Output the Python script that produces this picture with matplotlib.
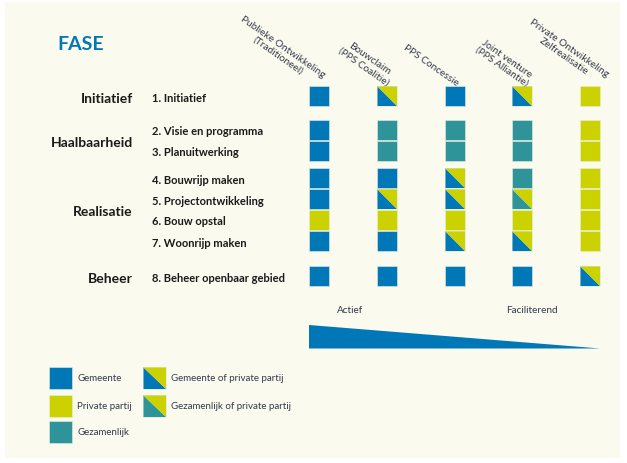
import matplotlib
matplotlib.use("Agg")
import matplotlib.pyplot as plt
from matplotlib.patches import Rectangle, Polygon

# ---------------- data ----------------
columns = ["Publieke Ontwikkeling\n(Traditioneel)", "Bouwclaim\n(PPS Coalitie)", "PPS Concessie",
           "Joint venture\n(PPS Alliantie)", "Private Ontwikkeling\nZelfrealisatie"]
phases = ["Initiatief", "Haalbaarheid", "Realisatie", "Beheer"]
phase_rows = [[0], [1, 2], [3, 4, 5, 6], [7]]
activities = ["1. Initiatief", "2. Visie en programma", "3. Planuitwerking", "4. Bouwrijp maken",
              "5. Projectontwikkeling", "6. Bouw opstal", "7. Woonrijp maken", "8. Beheer openbaar gebied"]
# G = Gemeente, P = Private partij, Z = Gezamenlijk, GP = Gemeente of private partij, ZP = Gezamenlijk of private partij
matrix = [
    ["G", "GP", "G", "GP", "P"],
    ["G", "Z", "Z", "Z", "P"],
    ["G", "Z", "Z", "Z", "P"],
    ["G", "G", "GP", "Z", "P"],
    ["G", "GP", "GP", "ZP", "P"],
    ["P", "P", "P", "P", "P"],
    ["G", "G", "GP", "GP", "P"],
    ["G", "G", "G", "G", "GP"],
]
legend_codes = ["G", "P", "Z", "GP", "ZP"]
legend_labels = ["Gemeente", "Private partij", "Gezamenlijk", "Gemeente of private partij",
                 "Gezamenlijk of private partij"]
scale_labels = ["Actief", "Faciliterend"]
title = "FASE"

# ---------------- style / layout ----------------
BLUE = "#0077B6"
YELLOW = "#CCD200"
TEAL = "#2E9499"
BG = "#FAFAEE"
TXT = "#1a1a1a"
TXT2 = "#333a4a"
colors = {"G": BLUE, "P": YELLOW, "Z": TEAL}

FONT = "Lato"
col_x0, col_dx = 319, 67.8
row_y = [97, 130.5, 151.5, 179, 200, 220.5, 242, 277]
sq = 20

fig = plt.figure(figsize=(6.27, 4.64), dpi=100)
ax = fig.add_axes([0, 0, 1, 1])
ax.set_xlim(0, 627)
ax.set_ylim(464, 0)
ax.axis("off")
fig.patch.set_facecolor("white")
ax.add_patch(Rectangle((5, 3), 615, 456, facecolor=BG, edgecolor="none", zorder=0))


def draw_cell(ax, cx, cy, code, w, h):
    x0, y0, x1, y1 = cx - w / 2, cy - h / 2, cx + w / 2, cy + h / 2
    if len(code) == 1:
        ax.add_patch(Rectangle((x0, y0), w, h, facecolor=colors[code], edgecolor="#e8efe0",
                               linewidth=0.4, zorder=2))
    else:
        ax.add_patch(Polygon([(x0, y0), (x0, y1), (x1, y1)], closed=True,
                             facecolor=colors[code[0]], edgecolor="none", zorder=2))
        ax.add_patch(Polygon([(x0, y0), (x1, y0), (x1, y1)], closed=True,
                             facecolor=colors[code[1]], edgecolor="none", zorder=2))
        ax.add_patch(Rectangle((x0, y0), w, h, facecolor="none", edgecolor="#d8e4d0",
                               linewidth=0.4, zorder=3))


# title
ax.text(57, 44, title, fontsize=14, fontweight="bold", color=BLUE, family=FONT, va="center", ha="left")

# column headers
header_anchor = [(-3, 88), (-1, 88), (0, 88), (2, 88), (9, 87)]
for i, lab in enumerate(columns):
    cx = col_x0 + i * col_dx
    dx, y = header_anchor[i]
    ax.text(cx + dx, y, lab, rotation=-35, rotation_mode="anchor", ha="right", va="bottom",
            multialignment="center", fontsize=7.3, color=TXT2, family=FONT, linespacing=1.1)

# phases
for ph, rows in zip(phases, phase_rows):
    ys = [row_y[r] for r in rows]
    ax.text(133, (min(ys) + max(ys)) / 2 + 2, ph, fontsize=10, fontweight="bold", color=TXT,
            family=FONT, ha="right", va="center")

# activities + cells
for r, act in enumerate(activities):
    ax.text(152, row_y[r] + 1.5, act, fontsize=8, fontweight="bold", color=TXT, family=FONT,
            ha="left", va="center")
    for c, code in enumerate(matrix[r]):
        draw_cell(ax, col_x0 + c * col_dx, row_y[r], code, sq, sq)

# scale
ax.text(350, 311, scale_labels[0], fontsize=7.2, color=TXT2, family=FONT, ha="center", va="center")
ax.text(532, 311, scale_labels[1], fontsize=7.2, color=TXT2, family=FONT, ha="center", va="center")
ax.add_patch(Polygon([(col_x0 - 10, 326), (col_x0 + 4 * col_dx + 10, 349.5), (col_x0 - 10, 349.5)],
                     closed=True, facecolor=BLUE, edgecolor="none", zorder=2))

# legend
leg_pos = [(60, 379), (60, 407), (60, 433), (154, 379), (154, 407)]
for code, lab, (lx, ly) in zip(legend_codes, legend_labels, leg_pos):
    draw_cell(ax, lx, ly, code, 23, 22)
    ax.text(lx + 17, ly, lab, fontsize=7, color=TXT2, family=FONT, ha="left", va="center")

fig.savefig("out.png", dpi=100, facecolor="white")
